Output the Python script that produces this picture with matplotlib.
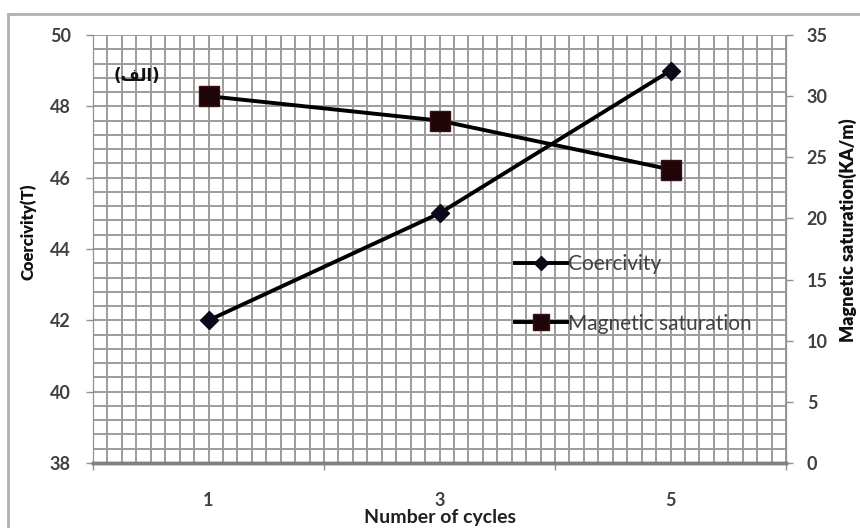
import matplotlib
matplotlib.use("Agg")
import matplotlib.pyplot as plt
from matplotlib.patches import Rectangle
from matplotlib.ticker import MultipleLocator
import numpy as np

# Data
cycles = ["1", "3", "5"]
coercivity = [42, 45, 49]          # T (left axis)
saturation = [30, 28, 24]          # KA/m (right axis)
left_ticks = [38, 40, 42, 44, 46, 48, 50]
right_ticks = [0, 5, 10, 15, 20, 25, 30, 35]

FONT = ["Lato", "DejaVu Sans"]
plt.rcParams["font.family"] = FONT

W, H = 860, 528
fig = plt.figure(figsize=(W / 100, H / 100), dpi=100)
fig.patch.set_facecolor("white")

# outer chart frame
fig.patches.append(Rectangle((8 / W, -0.02), 1.05, 1 - 14 / H + 0.02,
                             transform=fig.transFigure, fill=False,
                             edgecolor="#b0b0b0", linewidth=2.0))

ax = fig.add_axes([93 / W, 1 - 463 / H, 693 / W, 428 / H])
ax2 = ax.twinx()

x = np.arange(len(cycles))
ax.set_xlim(-0.5, len(cycles) - 0.5)
ax.set_ylim(left_ticks[0], left_ticks[-1])
ax2.set_ylim(right_ticks[0], right_ticks[-1])

# dense grid
for xv in np.arange(-0.5, len(cycles) - 0.5 + 1e-9, 1 / 16):
    ax.axvline(xv, color="#9c9c9c", lw=1.4, zorder=0)
for yv in np.arange(left_ticks[0], left_ticks[-1] + 1e-9, 0.4):
    ax.axhline(yv, color="#9c9c9c", lw=1.4, zorder=0)

ax.plot(x, coercivity, color="black", lw=2.8, marker="D", markersize=9,
        markerfacecolor="#0a0a1a", markeredgecolor="#0a0a1a",
        label="Coercivity", zorder=3)
ax2.plot(x, saturation, color="black", lw=2.8, marker="s", markersize=15,
         markerfacecolor="#1e0508", markeredgecolor="#3a1015",
         label="Magnetic saturation", zorder=3)

tick_color = "#404040"
ax.set_yticks(left_ticks)
ax.set_yticklabels([str(t) for t in left_ticks])
ax2.set_yticks(right_ticks)
ax2.set_yticklabels([str(t) for t in right_ticks])
ax.set_xticks(x)
ax.set_xticklabels(cycles)
ax.xaxis.set_minor_locator(MultipleLocator(1, offset=0.5))

ax.tick_params(axis="y", direction="out", length=5, width=1, color="#909090",
               labelsize=13, labelcolor=tick_color, pad=11)
ax2.tick_params(axis="y", direction="out", length=5, width=1, color="#909090",
                labelsize=13, labelcolor=tick_color, pad=10)
ax.tick_params(axis="x", which="major", length=0, labelsize=13,
               labelcolor=tick_color, pad=21)
ax.tick_params(axis="x", which="minor", direction="out", length=5, width=1,
               color="#909090")
for lab in ax.get_yticklabels() + ax2.get_yticklabels() + ax.get_xticklabels():
    lab.set_fontweight("bold")

for a in (ax, ax2):
    a.spines["top"].set_visible(False)
    a.spines["left"].set_color("#909090")
    a.spines["right"].set_color("#909090")
    a.spines["bottom"].set_color("#808080")
    a.spines["bottom"].set_linewidth(2.5)

ax.set_xlabel("Number of cycles", fontsize=14, fontweight="bold",
              color="#202020")
ax.xaxis.set_label_coords(0.5, -(517 - 463) / 428, transform=ax.transAxes)
ax.xaxis.label.set_va("center")

ax.set_ylabel("Coercivity(T)", fontsize=12, fontweight="heavy",
              color="#101010")
ax.yaxis.set_label_coords(-(93 - 28) / 693, (463 - 232) / 428)
ax.yaxis.label.set_va("center")

ax2.set_ylabel("Magnetic saturation(KA/m)", fontsize=13, fontweight="heavy",
               color="#101010")
ax2.yaxis.set_label_coords(1 + (848 - 786) / 693, (463 - 230) / 428)
ax2.yaxis.label.set_va("center")

# panel tag
ax.text(0.03, 0.905, "(\uFED2\uFEDF\uFE8D)", transform=ax.transAxes,
        fontsize=12, fontweight="bold", family=["DejaVu Sans"],
        color="#101010", ha="left", va="center", zorder=4)

h1, l1 = ax.get_legend_handles_labels()
h2, l2 = ax2.get_legend_handles_labels()
leg = ax2.legend(h1 + h2, l1 + l2, loc="upper left",
                 bbox_to_anchor=(422 / 693, 1 - (254 - 35) / 428),
                 frameon=False, fontsize=15, handlelength=2.5,
                 handletextpad=0.05, labelspacing=1.9, borderaxespad=0,
                 borderpad=0, markerscale=0.8)
for t in leg.get_texts():
    t.set_color("#404040")

fig.savefig("out.png", dpi=100)
